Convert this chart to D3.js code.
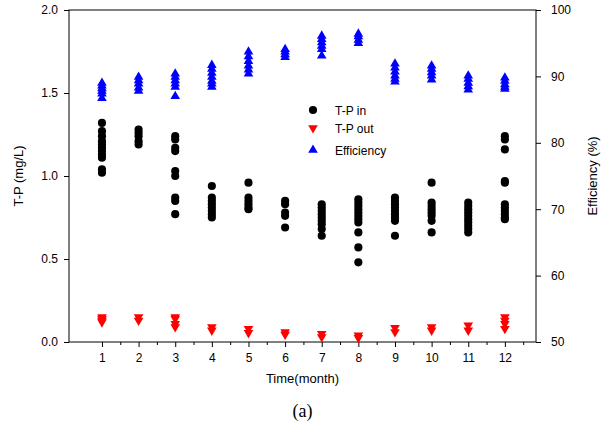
<!DOCTYPE html>
<html>
<head>
<meta charset="utf-8">
<script src="https://cdn.jsdelivr.net/npm/d3@7"></script>
<style>
  html, body { margin: 0; padding: 0; background: #fff; }
  svg { display: block; }
  text { font-family: "Liberation Sans", Arial, sans-serif; }
</style>
</head>
<body>
<svg id="chart" width="612" height="435"></svg>
<script>
// Monthly total phosphorus samples (mg/L) and removal efficiency (%)
const months = [1, 2, 3, 4, 5, 6, 7, 8, 9, 10, 11, 12];

const tpIn = [
  [1.32, 1.27, 1.24, 1.21, 1.19, 1.17, 1.15, 1.13, 1.11, 1.04, 1.02],
  [1.28, 1.26, 1.24, 1.21, 1.19],
  [1.24, 1.22, 1.17, 1.15, 1.03, 1.00, 0.87, 0.85, 0.77],
  [0.94, 0.87, 0.85, 0.83, 0.81, 0.79, 0.77, 0.75],
  [0.96, 0.87, 0.85, 0.83, 0.81, 0.80],
  [0.85, 0.83, 0.78, 0.76, 0.69],
  [0.83, 0.81, 0.79, 0.77, 0.75, 0.73, 0.71, 0.68, 0.64],
  [0.86, 0.84, 0.82, 0.80, 0.78, 0.76, 0.74, 0.72, 0.66, 0.57, 0.48],
  [0.87, 0.85, 0.83, 0.81, 0.79, 0.77, 0.75, 0.73, 0.64],
  [0.96, 0.84, 0.82, 0.80, 0.78, 0.76, 0.73, 0.66],
  [0.84, 0.82, 0.80, 0.78, 0.76, 0.74, 0.72, 0.70, 0.68, 0.66],
  [1.24, 1.22, 1.16, 0.97, 0.96, 0.83, 0.81, 0.79, 0.77, 0.75, 0.74]
];

const tpOut = [
  [0.15, 0.14, 0.13, 0.12],
  [0.15, 0.13],
  [0.15, 0.14, 0.11, 0.09],
  [0.09, 0.07],
  [0.08, 0.055],
  [0.06, 0.045],
  [0.05, 0.03],
  [0.04, 0.025],
  [0.085, 0.06],
  [0.09, 0.07],
  [0.10, 0.07],
  [0.15, 0.13, 0.11, 0.08]
];

const efficiency = [
  [89.0, 88.6, 88.2, 87.8, 87.4, 86.7],
  [89.9, 89.4, 88.9, 88.3, 87.8],
  [90.4, 89.9, 89.4, 88.9, 88.4, 87.0],
  [91.7, 91.1, 90.5, 89.9, 89.3, 88.9, 88.4],
  [93.7, 93.0, 92.3, 91.6, 91.0, 90.4],
  [94.1, 93.7, 93.3, 92.9],
  [96.1, 95.6, 95.1, 94.6, 94.1, 93.1],
  [96.4, 96.0, 95.5, 95.0],
  [91.9, 91.3, 90.7, 90.1, 89.6, 89.2],
  [91.6, 91.1, 90.6, 90.1, 89.5],
  [90.1, 89.6, 89.0, 88.5, 88.0],
  [89.8, 89.3, 88.8, 88.4, 88.1]
];

const leftTicks = [0.0, 0.5, 1.0, 1.5, 2.0];
const rightTicks = [50, 60, 70, 80, 90, 100];
const minorMonthTicks = [1.5, 2.5, 3.5, 4.5, 5.5, 6.5, 7.5, 8.5, 9.5, 10.5, 11.5, 12.5];

const legendItems = [
  { label: "T-P in", shape: "circle", color: "#000000" },
  { label: "T-P out", shape: "down", color: "#ff0000" },
  { label: "Efficiency", shape: "up", color: "#0000ff" }
];

// Plot frame
const frame = { left: 69, right: 536, top: 10, bottom: 342 };

const svg = d3.select("#chart");

const x = d3.scaleLinear().domain([0.1, 12.85]).range([frame.left, frame.right]);
const yL = d3.scaleLinear().domain([0, 2]).range([frame.bottom, frame.top]);
const yR = d3.scaleLinear().domain([50, 100]).range([frame.bottom, frame.top]);

// Marker generators
const circleSym = d3.symbol().type(d3.symbolCircle).size(52);
const triSym = d3.symbol().type(d3.symbolTriangle).size(40);

function flatten(groups) {
  const out = [];
  groups.forEach((vals, i) => vals.forEach(v => out.push({ m: months[i], v })));
  return out;
}

// Frame box
svg.append("rect")
  .attr("x", frame.left).attr("y", frame.top)
  .attr("width", frame.right - frame.left).attr("height", frame.bottom - frame.top)
  .attr("fill", "none").attr("stroke", "#000").attr("stroke-width", 1);

// Bottom axis: major ticks at months, minor ticks in between
svg.append("g")
  .attr("transform", `translate(0,${frame.bottom})`)
  .call(d3.axisBottom(x).tickValues(months).tickSize(5).tickPadding(6).tickFormat(d3.format("d")));
svg.append("g")
  .attr("transform", `translate(0,${frame.bottom})`)
  .call(d3.axisBottom(x).tickValues(minorMonthTicks).tickSize(3).tickFormat(""));

// Left axis
svg.append("g")
  .attr("transform", `translate(${frame.left},0)`)
  .call(d3.axisLeft(yL).tickValues(leftTicks).tickSize(5).tickPadding(6).tickFormat(d3.format(".1f")));

// Right axis
svg.append("g")
  .attr("transform", `translate(${frame.right},0)`)
  .call(d3.axisRight(yR).tickValues(rightTicks).tickSize(5).tickPadding(10).tickFormat(d3.format("d")));

svg.selectAll(".domain").remove();
svg.selectAll(".tick line").attr("stroke", "#000");
svg.selectAll(".tick text")
  .attr("font-size", 12)
  .attr("fill", "#000")
  .style("font-family", "'Liberation Sans', Arial, sans-serif");

// Axis titles
svg.append("text")
  .attr("transform", `translate(23,${(frame.top + frame.bottom) / 2}) rotate(-90)`)
  .attr("text-anchor", "middle")
  .attr("font-size", 13)
  .text("T-P (mg/L)");

svg.append("text")
  .attr("transform", `translate(597,${(frame.top + frame.bottom) / 2}) rotate(-90)`)
  .attr("text-anchor", "middle")
  .attr("font-size", 13)
  .text("Efficiency (%)");

svg.append("text")
  .attr("x", (frame.left + frame.right) / 2)
  .attr("y", 383)
  .attr("text-anchor", "middle")
  .attr("font-size", 13)
  .text("Time(month)");

svg.append("text")
  .attr("x", (frame.left + frame.right) / 2)
  .attr("y", 417)
  .attr("text-anchor", "middle")
  .attr("font-size", 18)
  .style("font-family", "'Liberation Serif', 'Times New Roman', serif")
  .text("(a)");

// T-P in
svg.append("g").selectAll("path")
  .data(flatten(tpIn))
  .join("path")
  .attr("d", circleSym)
  .attr("transform", d => `translate(${x(d.m)},${yL(d.v)})`)
  .attr("fill", "#000");

// T-P out (downward triangles)
svg.append("g").selectAll("path")
  .data(flatten(tpOut))
  .join("path")
  .attr("d", triSym)
  .attr("transform", d => `translate(${x(d.m)},${yL(d.v)}) rotate(180)`)
  .attr("fill", "#ff0000");

// Efficiency (upward triangles)
svg.append("g").selectAll("path")
  .data(flatten(efficiency))
  .join("path")
  .attr("d", triSym)
  .attr("transform", d => `translate(${x(d.m)},${yR(d.v)})`)
  .attr("fill", "#0000ff");

// Legend
const legend = svg.append("g");
const legendRowsY = [110, 128, 150];
legendItems.forEach((item, i) => {
  const g = legend.append("g").attr("transform", `translate(313,${legendRowsY[i]})`);
  const sym = item.shape === "circle" ? circleSym : triSym;
  g.append("path")
    .attr("d", sym)
    .attr("transform", item.shape === "down" ? "rotate(180)" : null)
    .attr("fill", item.color);
  g.append("text")
    .attr("x", 22)
    .attr("y", 4.5)
    .attr("font-size", 12)
    .text(item.label);
});
</script>
</body>
</html>
